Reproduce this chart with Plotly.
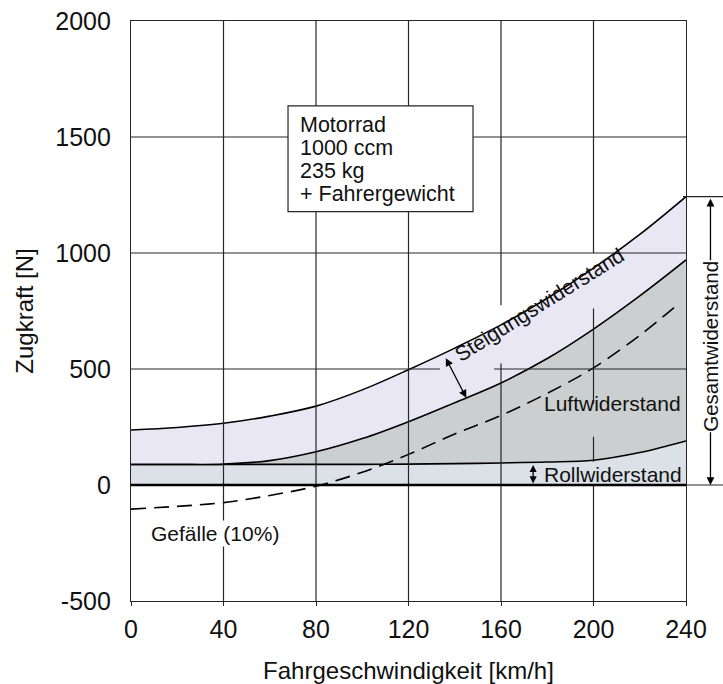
import plotly.graph_objects as go

# Fahrwiderstände eines Motorrads über der Fahrgeschwindigkeit
speed = [0, 20, 40, 60, 80, 100, 120, 140, 160, 180, 200, 220, 240]
roll_resistance = [89, 89, 89, 89, 89, 89, 90, 92, 95, 99, 107, 140, 190]
air_plus_roll = [89, 89, 90, 105, 143, 200, 273, 355, 440, 545, 672, 815, 970]
total_climb = [237, 248, 266, 297, 340, 410, 497, 590, 690, 805, 935, 1080, 1243]

downhill_speed = [0, 20, 40, 60, 80, 100, 120, 140, 160, 180, 200, 220, 237]
downhill_force = [-104, -92, -76, -45, -5, 55, 132, 220, 300, 395, 505, 645, 783]

x_ticks = [0, 40, 80, 120, 160, 200, 240]
y_ticks = [-500, 0, 500, 1000, 1500, 2000]

FONT = "Liberation Sans, Arial, Helvetica, sans-serif"
GRID = "#262626"
C_ROLL = "#dbe1e6"
C_AIR = "#cbcfcf"
C_CLIMB = "#e9e7f3"

fig = go.Figure()

fig.add_trace(go.Scatter(
    x=speed, y=roll_resistance, mode="lines", line=dict(color="black", width=1.6, shape="spline"),
    fill="tozeroy", fillcolor=C_ROLL, hoverinfo="skip", showlegend=False))
fig.add_trace(go.Scatter(
    x=speed, y=air_plus_roll, mode="lines", line=dict(color="black", width=1.6, shape="spline"),
    fill="tonexty", fillcolor=C_AIR, hoverinfo="skip", showlegend=False))
fig.add_trace(go.Scatter(
    x=speed, y=total_climb, mode="lines", line=dict(color="black", width=1.6, shape="spline"),
    fill="tonexty", fillcolor=C_CLIMB, hoverinfo="skip", showlegend=False))
fig.add_trace(go.Scatter(
    x=downhill_speed, y=downhill_force, mode="lines",
    line=dict(color="black", width=1.6, dash="15px,8px", shape="spline"),
    hoverinfo="skip", showlegend=False))

shapes = []


def seg(x0, y0, x1, y1, width=1.2, color=GRID, xref="x", yref="y"):
    shapes.append(dict(type="line", x0=x0, y0=y0, x1=x1, y1=y1, xref=xref, yref=yref,
                       line=dict(color=color, width=width), layer="above"))


# vertical grid segments (drawn over the filled bands where visible)
for xv in (40, 80, 120):
    seg(xv, -500, xv, 2000)
seg(160, -500, 160, 524)
seg(160, 775, 160, 2000)
seg(200, -500, 200, 0)
seg(200, 100, 200, 208)
seg(200, 350, 200, 761)
seg(200, 1000, 200, 2000)
# horizontal grid segments
seg(0, 1500, 240, 1500)
seg(0, 1000, 240, 1000)
seg(0, 500, 133.6, 500)
seg(157, 500, 240, 500)
# zero line and its extension towards the right-hand bracket
seg(0, 0, 240, 0, width=2.6, color="black")
seg(1.0, 0.2, 1.0667, 0.2, width=1.2, color=GRID, xref="paper", yref="paper")
seg(0.9946, (1243 + 500) / 2500, 1.0667, (1243 + 500) / 2500, width=1.2, color=GRID,
    xref="paper", yref="paper")
# info box
shapes.append(dict(type="rect", x0=67.9, x1=147.9, y0=1178, y1=1634, xref="x", yref="y",
                   fillcolor="white", line=dict(color=GRID, width=1.2), layer="above"))

annotations = []
for text, yv in (("Motorrad", 1552), ("1000 ccm", 1453), ("235 kg", 1354),
                 ("+ Fahrergewicht", 1255)):
    annotations.append(dict(x=72.4, y=yv, xref="x", yref="y", text=text, showarrow=False,
                            xanchor="left", yanchor="middle",
                            font=dict(family=FONT, size=21.5, color="#111")))

BRACKET_X = 1.0441  # horizontal position of the total-resistance bracket (paper units)
lbl = dict(family=FONT, size=21, color="#111")
annotations += [
    dict(x=176.6, y=777, text="Steigungswiderstand", textangle=-32, showarrow=False,
         font=lbl),
    dict(x=145, y=376, ax=135.8, ay=553, axref="x", ayref="y", text="", showarrow=True,
         arrowside="end+start", arrowhead=2, startarrowhead=2, arrowsize=1.2,
         startarrowsize=1.2, arrowwidth=1.3, arrowcolor="black"),
    dict(x=208.4, y=350, text="Luftwiderstand", showarrow=False, font=lbl),
    dict(x=208.4, y=46, text="Rollwiderstand", showarrow=False, font=lbl),
    dict(x=173.9, y=7, ax=173.9, ay=93, axref="x", ayref="y", text="", showarrow=True,
         arrowside="end+start", arrowhead=2, startarrowhead=2, arrowsize=1.1,
         startarrowsize=1.1, arrowwidth=1.3, arrowcolor="black"),
    dict(x=36.3, y=-208, text="Gefälle (10%)", showarrow=False, font=lbl,
         bgcolor="white"),
    dict(x=BRACKET_X, y=0, xref="paper", yref="y", ax=0, ay=1240, axref="pixel", ayref="y",
         text="", showarrow=True, arrowside="end+start", arrowhead=2, startarrowhead=2,
         arrowsize=1.2, startarrowsize=1.2, arrowwidth=1.3, arrowcolor="black"),
    dict(x=BRACKET_X, y=598, xref="paper", yref="y", xanchor="center", yanchor="middle",
         text="Gesamtwiderstand", textangle=-90, showarrow=False,
         font=dict(family=FONT, size=20.5, color="#111"), bgcolor="white", borderpad=0),
]

fig.update_layout(
    width=723, height=684,
    margin=dict(l=131, r=37, t=21, b=83, autoexpand=False),
    paper_bgcolor="white", plot_bgcolor="white",
    font=dict(family=FONT, color="#111"),
    shapes=shapes, annotations=annotations,
)
fig.update_xaxes(
    range=[0, 240], tickvals=x_ticks, ticktext=[str(v) for v in x_ticks],
    showgrid=False, zeroline=False, showline=True, mirror=True, linecolor=GRID,
    linewidth=1.2, ticks="outside", ticklen=4, tickcolor=GRID, tickwidth=1.2,
    tickfont=dict(family=FONT, size=25, color="#111"), ticklabelstandoff=2,
    title=dict(text="Fahrgeschwindigkeit [km/h]", font=dict(family=FONT, size=24, color="#111"),
               standoff=20),
    layer="above traces",
)
fig.update_yaxes(
    range=[-500, 2000], tickvals=y_ticks, ticktext=[str(v) for v in y_ticks],
    showgrid=False, zeroline=False, showline=True, mirror=True, linecolor=GRID,
    linewidth=1.2, ticks="", tickfont=dict(family=FONT, size=25, color="#111"),
    ticklabelstandoff=14,
    title=dict(text="Zugkraft [N]", font=dict(family=FONT, size=24, color="#111"), standoff=14),
    layer="above traces",
)

fig.write_html("out.html")
